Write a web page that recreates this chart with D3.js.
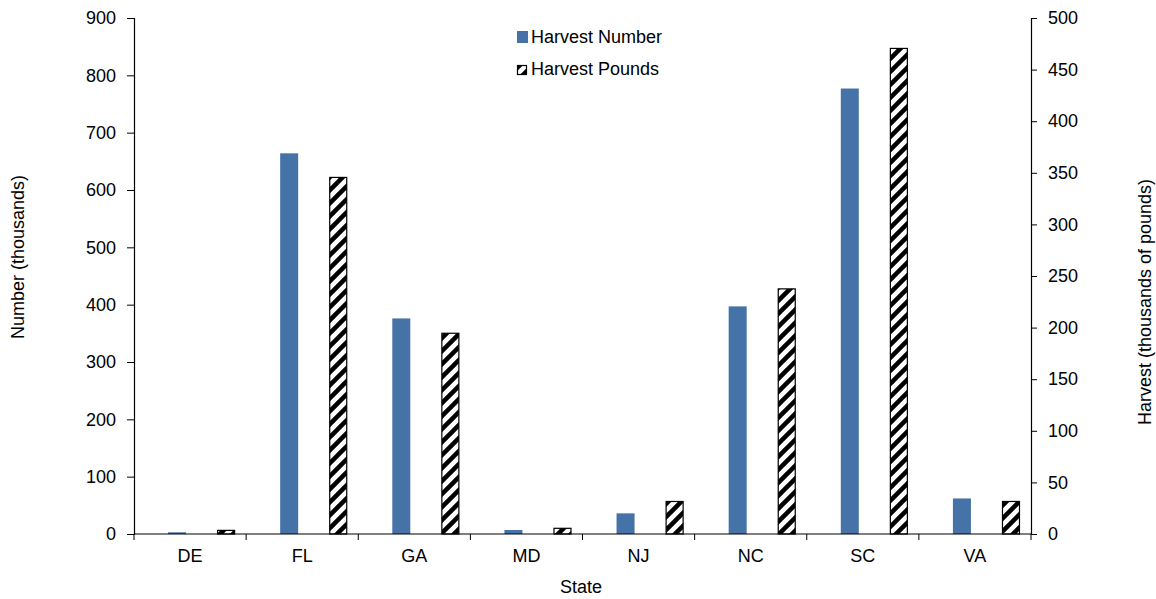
<!DOCTYPE html>
<html>
<head>
<meta charset="utf-8">
<script src="https://cdn.jsdelivr.net/npm/d3@7/dist/d3.min.js"></script>
<style>
  html, body { margin: 0; padding: 0; background: #fff; }
  text { font-family: "Liberation Sans", Arial, sans-serif; fill: #000; }
</style>
</head>
<body>
<svg id="chart" width="1156" height="599"></svg>
<script>
const states = ["DE", "FL", "GA", "MD", "NJ", "NC", "SC", "VA"];
const harvestNumber = [3, 664, 376, 7, 36, 397, 777, 62];   // thousands (left axis)
const harvestPounds = [4, 346, 195, 6, 32, 238, 471, 32];   // thousands of pounds (right axis)
const leftTicks = [0, 100, 200, 300, 400, 500, 600, 700, 800, 900];
const rightTicks = [0, 50, 100, 150, 200, 250, 300, 350, 400, 450, 500];
const seriesNames = ["Harvest Number", "Harvest Pounds"];

const svg = d3.select("#chart");
const pL = 134, pR = 1031, pT = 18, pB = 534;
const FS = 18;

const x = d3.scaleBand().domain(states).range([pL, pR]).padding(0);
const bw = x.bandwidth();
const xs = d3.scaleBand().domain(seriesNames).range([bw * 0.3036, bw * 0.9018]).paddingInner(0.633).paddingOuter(0);
const yL = d3.scaleLinear().domain([0, 900]).range([pB, pT]);
const yR = d3.scaleLinear().domain([0, 500]).range([pB, pT]);

const defs = svg.append("defs");
const pat = defs.append("pattern").attr("id", "hatch").attr("patternUnits", "userSpaceOnUse")
  .attr("width", 13).attr("height", 13);
pat.append("rect").attr("width", 13).attr("height", 13).attr("fill", "#fff");
pat.append("path").attr("d", "M-4,4 L4,-4 M-2,15 L15,-2 M9,17 L17,9")
  .attr("stroke", "#000").attr("stroke-width", 4.5).attr("fill", "none");

const blue = "#4572A7";

// Bars - harvest number
svg.append("g").selectAll("rect").data(states).join("rect")
  .attr("x", (d) => x(d) + xs("Harvest Number"))
  .attr("width", xs.bandwidth())
  .attr("y", (d, i) => yL(harvestNumber[i]))
  .attr("height", (d, i) => pB - yL(harvestNumber[i]))
  .attr("fill", blue);

// Bars - harvest pounds
svg.append("g").selectAll("rect").data(states).join("rect")
  .attr("x", (d) => x(d) + xs("Harvest Pounds") + 0.5)
  .attr("width", xs.bandwidth() - 1)
  .attr("y", (d, i) => yR(harvestPounds[i]) + 0.5)
  .attr("height", (d, i) => Math.max(0, pB - yR(harvestPounds[i]) - 0.5))
  .attr("fill", "url(#hatch)")
  .attr("stroke", "#000").attr("stroke-width", 1.2);

// Left axis
const gL = svg.append("g").attr("transform", `translate(${pL},0)`)
  .call(d3.axisLeft(yL).tickValues(leftTicks).tickSize(7).tickPadding(11).tickFormat(d3.format("d")));
// Right axis
const gR = svg.append("g").attr("transform", `translate(${pR},0)`)
  .call(d3.axisRight(yR).tickValues(rightTicks).tickSize(6).tickPadding(11).tickFormat(d3.format("d")));
// Bottom axis (labels)
const gB = svg.append("g").attr("transform", `translate(0,${pB})`)
  .call(d3.axisBottom(x).tickSize(0).tickPadding(15));
gB.select(".domain").remove();
// boundary ticks
svg.append("g").selectAll("line").data(states.concat(["_end"])).join("line")
  .attr("x1", (d, i) => pL + i * bw).attr("x2", (d, i) => pL + i * bw)
  .attr("y1", pB).attr("y2", pB + 6)
  .attr("stroke", "#000").attr("stroke-width", 1);
svg.append("line").attr("x1", pL).attr("x2", pR).attr("y1", pB).attr("y2", pB)
  .attr("stroke", "#000").attr("stroke-width", 1.2);

[gL, gR, gB].forEach(g => {
  g.selectAll("text").style("font-size", FS + "px").style("font-family", "Liberation Sans, Arial, sans-serif").attr("fill", "#000");
  g.selectAll("line").attr("stroke", "#000");
  g.selectAll(".domain").attr("stroke", "#000").attr("stroke-width", 1.2);
});

// Axis titles
svg.append("text").attr("transform", "translate(24,257) rotate(-90)")
  .attr("text-anchor", "middle").style("font-size", FS + "px").text("Number (thousands)");
svg.append("text").attr("transform", "translate(1151,302) rotate(-90)")
  .attr("text-anchor", "middle").style("font-size", FS + "px").text("Harvest (thousands of pounds)");
svg.append("text").attr("x", 581).attr("y", 593)
  .attr("text-anchor", "middle").style("font-size", FS + "px").text("State");

// Legend
const lg = svg.append("g");
lg.append("rect").attr("x", 517).attr("y", 31).attr("width", 11).attr("height", 12).attr("fill", blue);
lg.append("text").attr("x", 531).attr("y", 43).style("font-size", FS + "px").text(seriesNames[0]);
lg.append("rect").attr("x", 517.5).attr("y", 65.5).attr("width", 9).attr("height", 9)
  .attr("fill", "url(#hatch)").attr("stroke", "#000").attr("stroke-width", 1.2);
lg.append("text").attr("x", 531).attr("y", 75).style("font-size", FS + "px").text(seriesNames[1]);
</script>
</body>
</html>
